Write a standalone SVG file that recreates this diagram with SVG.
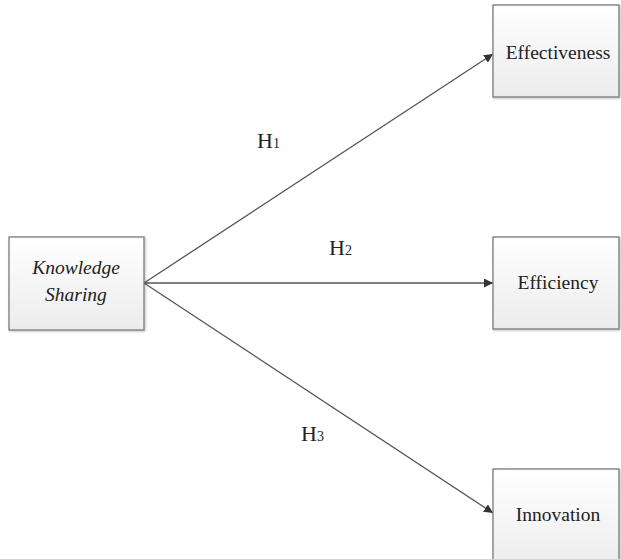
<svg xmlns="http://www.w3.org/2000/svg" width="621" height="559" viewBox="0 0 621 559">
<defs>
<linearGradient id="g" x1="0" y1="0" x2="0" y2="1">
<stop offset="0" stop-color="#ffffff"/>
<stop offset="1" stop-color="#ececec"/>
</linearGradient>
<marker id="arr" viewBox="0 0 10 10" refX="10" refY="5" markerWidth="9" markerHeight="9" markerUnits="userSpaceOnUse" orient="auto">
<path d="M0,0 L10,5 L0,10 z" fill="#333333"/>
</marker>
<filter id="sh" x="-5%" y="-5%" width="115%" height="115%">
<feDropShadow dx="1" dy="1" stdDeviation="0.8" flood-color="#000" flood-opacity="0.25"/>
</filter>
</defs>
<style>
.box{fill:url(#g);stroke:#7a7a7a;stroke-width:1.3;filter:url(#sh)}
.lbl{font-family:"Liberation Serif","Times New Roman",serif;font-size:19.5px;fill:#222;text-anchor:middle}
.h{font-family:"Liberation Serif","Times New Roman",serif;font-size:22px;fill:#222}
.sub{font-size:14px}
.edge{stroke:#555;stroke-width:1.3;fill:none;marker-end:url(#arr)}
</style>
<g id="connectors">
<line class="edge" x1="144" y1="283" x2="493" y2="54"/>
<line class="edge" x1="144" y1="283" x2="493" y2="283"/>
<line class="edge" x1="144" y1="283" x2="493" y2="513"/>
<text class="h" x="257" y="148">H<tspan class="sub">1</tspan></text>
<text class="h" x="329" y="255">H<tspan class="sub">2</tspan></text>
<text class="h" x="301" y="441">H<tspan class="sub">3</tspan></text>
</g>
<g id="knowledge-sharing">
<rect class="box" x="9" y="237" width="135" height="93"/>
<text class="lbl" x="76" y="274" font-style="italic">Knowledge</text>
<text class="lbl" x="76" y="301" font-style="italic">Sharing</text>
</g>
<g id="effectiveness">
<rect class="box" x="493" y="5" width="126" height="92"/>
<text class="lbl" x="558" y="59">Effectiveness</text>
</g>
<g id="efficiency">
<rect class="box" x="493" y="237" width="126" height="92"/>
<text class="lbl" x="558" y="289">Efficiency</text>
</g>
<g id="innovation">
<rect class="box" x="493" y="469" width="126" height="100"/>
<text class="lbl" x="558" y="521">Innovation</text>
</g>
</svg>
